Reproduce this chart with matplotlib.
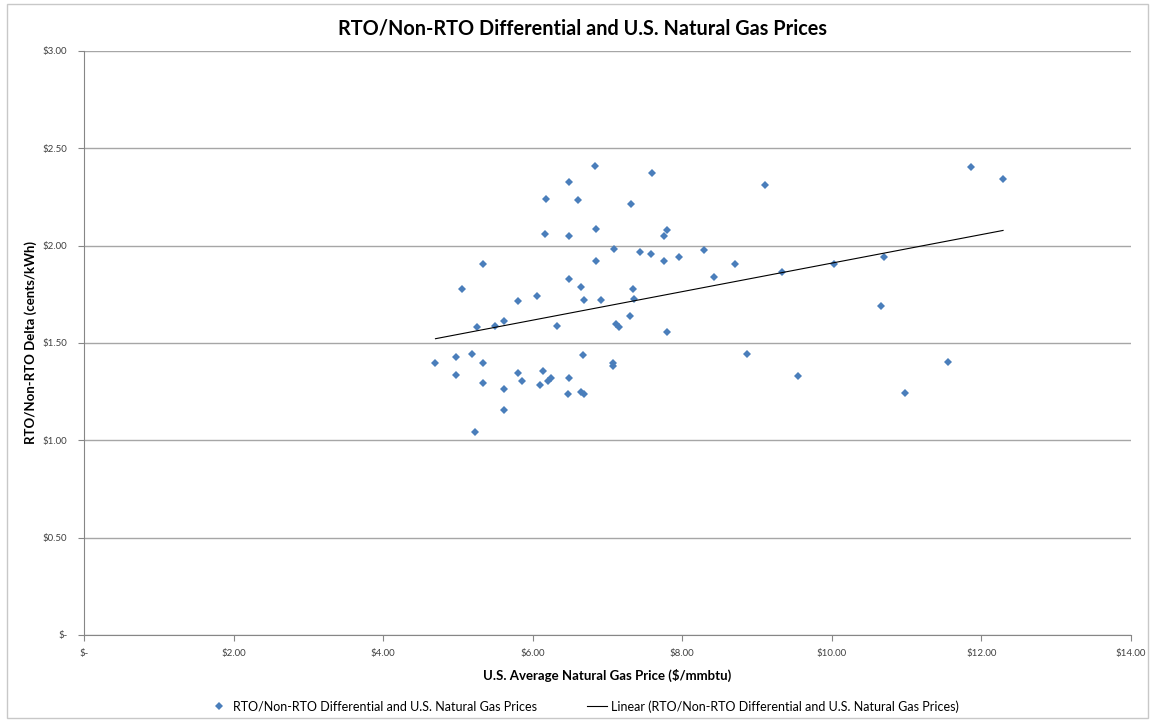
import numpy as np
import matplotlib.pyplot as plt
from matplotlib.ticker import FuncFormatter

plt.rcParams['font.family'] = ['Lato', 'DejaVu Sans']

# U.S. average natural gas price ($/mmbtu)
gas_price = [4.70, 4.98, 4.98, 5.06, 5.19, 5.23, 5.26, 5.33, 5.33, 5.33,
             5.49, 5.62, 5.61, 5.61, 5.81, 5.81, 5.86, 6.06, 6.10, 6.14,
             6.17, 6.18, 6.20, 6.24, 6.33, 6.47, 6.49, 6.49, 6.49, 6.49,
             6.61, 6.64, 6.64, 6.67, 6.68, 6.69, 6.83, 6.85, 6.85, 6.91,
             7.08, 7.08, 7.09, 7.11, 7.15, 7.30, 7.32, 7.34, 7.36, 7.44,
             7.58, 7.60, 7.75, 7.76, 7.79, 7.80, 7.96, 8.29, 8.43, 8.70,
             8.86, 9.10, 9.34, 9.55, 10.03, 10.66, 10.70, 10.98, 11.55, 11.86,
             12.29]
# RTO / non-RTO delta (cents/kWh)
rto_delta = [1.397, 1.428, 1.335, 1.777, 1.443, 1.043, 1.582, 1.905, 1.397, 1.294,
             1.587, 1.613, 1.264, 1.156, 1.715, 1.346, 1.305, 1.741, 1.284, 1.356,
             2.060, 2.239, 1.305, 1.320, 1.587, 1.238, 2.327, 2.049, 1.828, 1.320,
             2.234, 1.787, 1.248, 1.438, 1.720, 1.238, 2.409, 2.085, 1.921, 1.720,
             1.397, 1.382, 1.983, 1.597, 1.582, 1.638, 2.214, 1.777, 1.726, 1.967,
             1.957, 2.373, 1.921, 2.049, 1.556, 2.080, 1.941, 1.977, 1.839, 1.905,
             1.443, 2.311, 1.864, 1.330, 1.905, 1.690, 1.941, 1.243, 1.402, 2.404,
             2.342]

series_name = "RTO/Non-RTO Differential and U.S. Natural Gas Prices"

x = np.array(gas_price)
y = np.array(rto_delta)
slope, intercept = np.polyfit(x, y, 1)
xf = np.array([x.min(), x.max()])

fig = plt.figure(figsize=(11.54, 7.21), dpi=100)
fig.patches.append(plt.Rectangle((0.006, 0.004), 0.989, 0.99, transform=fig.transFigure,
                                 fill=False, edgecolor='#c8c8c8', linewidth=1))
ax = fig.add_axes([0.0728, 0.1193, 0.9072, 0.81])

ax.plot(x, y, linestyle='none', marker='D', markersize=4.5, color='#4a7ebb',
        markeredgewidth=0, label=series_name, zorder=3)
ax.plot(xf, slope * xf + intercept, color='black', linewidth=0.8,
        label='Linear (' + series_name + ')', zorder=4)

ax.set_xlim(0, 14)
ax.set_ylim(0, 3)
ax.set_xticks(np.arange(0, 15, 2))
ax.set_yticks(np.arange(0, 3.01, 0.5))

def money(v, pos):
    return '$-' if abs(v) < 1e-9 else '${:.2f}'.format(v)

ax.xaxis.set_major_formatter(FuncFormatter(money))
ax.yaxis.set_major_formatter(FuncFormatter(money))
ax.tick_params(labelsize=7, colors='#404040', length=4, width=0.8)
ax.tick_params(axis='x', pad=6)
ax.tick_params(axis='y', pad=8)
ax.tick_params(axis='both', color='#868686')
ax.grid(axis='y', color='#a6a6a6', linewidth=1)
ax.set_axisbelow(True)
for s in ['top', 'right']:
    ax.spines[s].set_visible(False)
for s in ['left', 'bottom']:
    ax.spines[s].set_color('#868686')

fig.text(0.505, 0.961, 'RTO/Non-RTO Differential and U.S. Natural Gas Prices',
         fontsize=14.3, fontweight='bold', ha='center', va='center')
ax.set_xlabel('U.S. Average Natural Gas Price ($/mmbtu)', fontsize=9.5,
              fontweight='bold', labelpad=8)
ax.set_ylabel('RTO/Non-RTO Delta (cents/kWh)', fontsize=9.5, fontweight='bold',
              labelpad=4)

fig.legend(loc='center', bbox_to_anchor=(0.506, 0.020), ncol=2, frameon=False,
           fontsize=9, handlelength=1.6, columnspacing=4.0, handletextpad=0.3)

fig.savefig('out.png', dpi=100)
